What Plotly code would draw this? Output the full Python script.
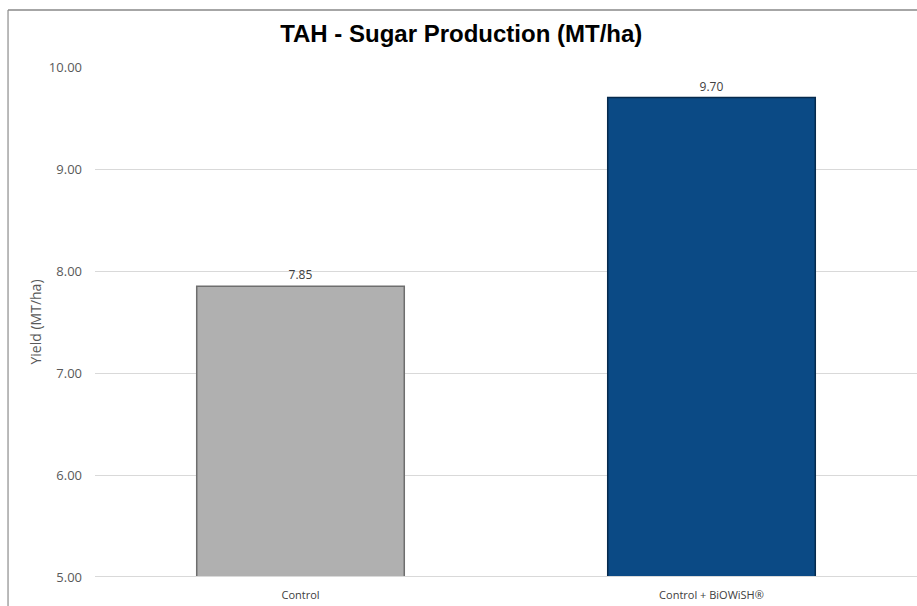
import plotly.graph_objects as go

categories = ["Control", "Control + BiOWiSH®"]
values = [7.85, 9.70]
labels = ["7.85", "9.70"]
bar_colors = ["#B0B0B0", "#0B4A85"]
edge_colors = ["#6E6E6E", "#062A4D"]
y_ticks = [5, 6, 7, 8, 9, 10]
y_tick_text = ["5.00", "6.00", "7.00", "8.00", "9.00", "10.00"]

fig = go.Figure()
fig.add_trace(go.Bar(
    x=categories, y=values,
    marker=dict(color=bar_colors, line=dict(color=edge_colors, width=1.5)),
    text=labels, textposition="outside",
    textfont=dict(family="Open Sans, Liberation Sans, sans-serif", size=12, color="#404040"),
    cliponaxis=False,
    width=0.505,
    hoverinfo="skip",
))

fig.update_layout(
    width=917, height=606,
    margin=dict(l=95, r=0, t=67, b=29),
    paper_bgcolor="white", plot_bgcolor="white",
    showlegend=False,
    title=dict(text="<b>TAH - Sugar Production (MT/ha)</b>",
               x=0.503, xanchor="center", y=0.945, yanchor="middle",
               font=dict(family="Liberation Sans, Arial, sans-serif", size=24, color="#000000")),
    xaxis=dict(showgrid=False, showline=False, ticks="", ticklabelstandoff=10,
               tickfont=dict(family="Open Sans, Liberation Sans, sans-serif", size=11, color="#404040")),
    yaxis=dict(range=[5, 10], tickvals=y_ticks, ticktext=y_tick_text,
               showgrid=True, gridcolor="#D9D9D9", gridwidth=1,
               zeroline=False, showline=False, ticks="", ticklabelstandoff=12,
               tickfont=dict(family="Open Sans, Liberation Sans, sans-serif", size=13, color="#595959"),
               title=dict(text="Yield (MT/ha)", standoff=3,
                          font=dict(family="Open Sans, Liberation Sans, sans-serif", size=14, color="#595959"))),
    shapes=[
        dict(type="line", xref="paper", yref="paper", x0=-0.1058, x1=1.01, y0=1.1118, y1=1.1118,
             line=dict(color="#A6A6A6", width=2)),
        dict(type="line", xref="paper", yref="paper", x0=-0.1058, x1=-0.1058, y0=1.1118, y1=-0.1,
             line=dict(color="#8C8C8C", width=1.2)),
        dict(type="line", xref="paper", yref="y", x0=0, x1=1, y0=5, y1=5,
             line=dict(color="#D9D9D9", width=2)),
    ],
)

fig.write_html("out.html")
